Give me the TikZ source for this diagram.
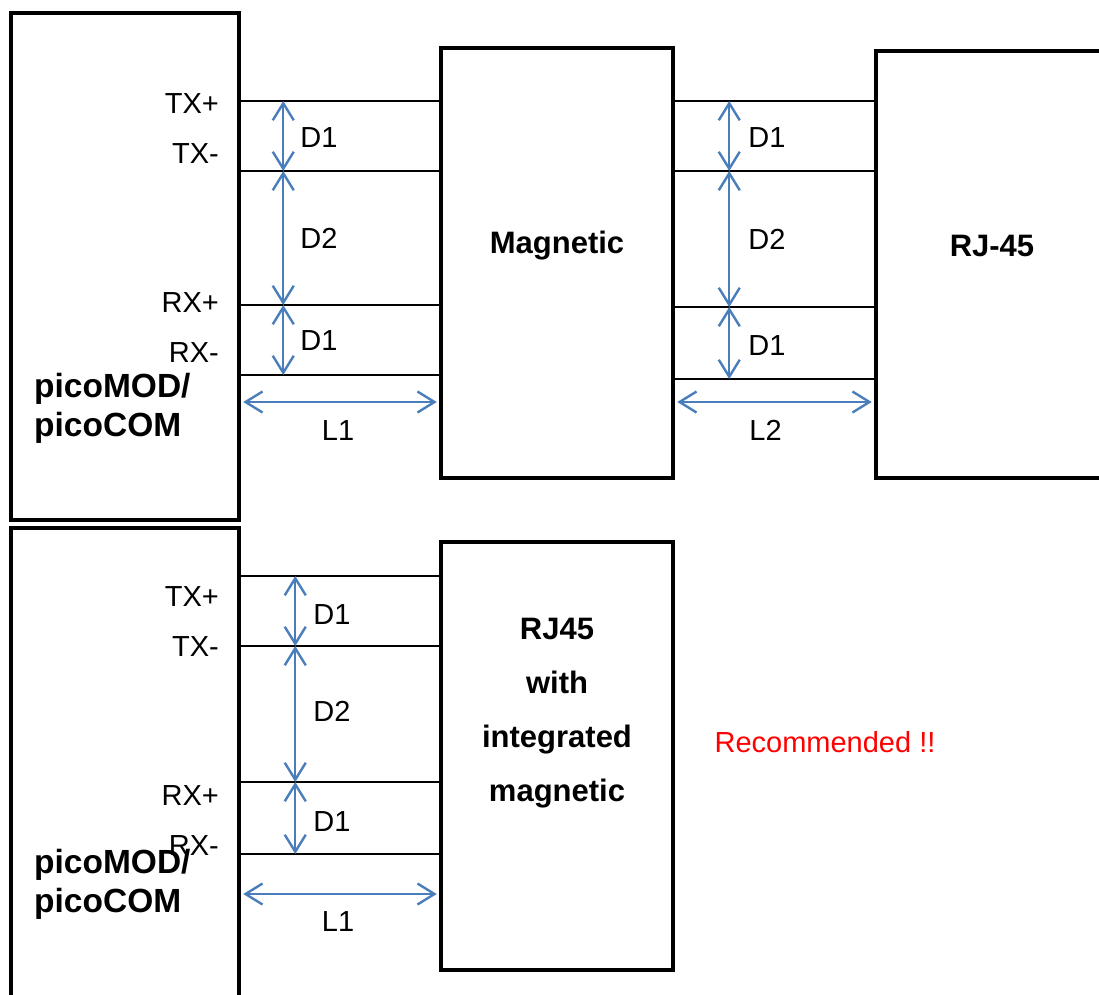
\documentclass[tikz,border=0pt]{standalone}
\usepackage{fontspec}
\setmainfont{Liberation Sans}
\usepackage{xcolor}
\usetikzlibrary{arrows.meta}
\definecolor{dimblue}{HTML}{4A7EBB}
\definecolor{alertred}{HTML}{FF0000}

\begin{document}
\begin{tikzpicture}[x=1pt,y=-1pt,
  box/.style={draw,line width=4.5pt,inner sep=0pt},
  wire/.style={line width=2.5pt},
  dim/.style={draw=dimblue,line width=2.4pt,{Straight Barb[length=17pt,width=21pt]}-{Straight Barb[length=17pt,width=21pt]}},
  pin/.style={anchor=east,inner sep=0pt,font=\fontsize{29}{34}\selectfont},
  lbl/.style={inner sep=0pt,font=\fontsize{29}{34}\selectfont},
  title/.style={inner sep=0pt,align=center,font=\fontsize{31}{54}\selectfont\bfseries},
  modtitle/.style={inner sep=0pt,anchor=west,align=left,font=\fontsize{33.5}{39}\selectfont\bfseries}]
\useasboundingbox (0,0) rectangle (1099,994);
\clip (0,0) rectangle (1099,994);

% upper layout: module - magnetic - RJ-45
\node[box,minimum width=228pt,minimum height=507pt] (pm1) at (125,266.5) {};
\node[box,minimum width=232pt,minimum height=430pt] (mag) at (557,263) {};
\node[box,minimum width=244pt,minimum height=427pt] (rj) at (998,264.5) {};
\node[title] (magtxt) at (557,246) {Magnetic};
\node[title] (rjtxt) at (992,246) {RJ-45};
\node[modtitle] (pm1txt) at (34,408) {picoMOD/\\picoCOM};

\foreach \y/\n in {101/a,171/b,305/c,375/d}
  \draw[wire] (pm1.east |- 0,\y) coordinate (l\n) -- (mag.west |- 0,\y);
\foreach \y/\n in {101/a,171/b,307/c,379/d}
  \draw[wire] (mag.east |- 0,\y) coordinate (r\n) -- (rj.west |- 0,\y);

\node[pin] (txp1) at (219,104) {TX+};
\node[pin] (txm1) at (219,154) {TX-};
\node[pin] (rxp1) at (219,303) {RX+};
\node[pin] (rxm1) at (219,353) {RX-};

\draw[dim] ([xshift=42pt]la) -- node[lbl,right=16pt,yshift=-2pt]{D1} ([xshift=42pt]lb);
\draw[dim] ([xshift=42pt]lb) -- node[lbl,right=16pt]{D2} ([xshift=42pt]lc);
\draw[dim] ([xshift=42pt]lc) -- node[lbl,right=16pt,yshift=-1pt]{D1} ([xshift=42pt]ld);
\draw[dim,shorten <=2pt,shorten >=2pt] (pm1.east |- 0,402) -- node[lbl,below=17pt,xshift=-2pt]{L1} (mag.west |- 0,402);

\draw[dim] ([xshift=54pt]ra) -- node[lbl,right=18pt,yshift=-2pt]{D1} ([xshift=54pt]rb);
\draw[dim] ([xshift=54pt]rb) -- node[lbl,right=18pt]{D2} ([xshift=54pt]rc);
\draw[dim] ([xshift=54pt]rc) -- node[lbl,right=18pt,yshift=-3pt]{D1} ([xshift=54pt]rd);
\draw[dim,shorten <=2pt,shorten >=2pt] (mag.east |- 0,402) -- node[lbl,below=17pt,xshift=-9pt]{L2} (rj.west |- 0,402);

% lower layout: module - RJ45 with magnetic
\node[box,minimum width=228pt,minimum height=492pt] (pm2) at (125,774) {};
\node[box,minimum width=232pt,minimum height=428pt] (rjm) at (557,756) {};
\node[title] (rjmtxt) at (557,713) {RJ45\\with\\integrated\\magnetic};
\node[modtitle] (pm2txt) at (34,884) {picoMOD/\\picoCOM};
\node[lbl,text=alertred] (rec) at (825,742) {Recommended !!};

\foreach \y/\n in {576/a,646/b,782/c,854/d}
  \draw[wire] (pm2.east |- 0,\y) coordinate (b\n) -- (rjm.west |- 0,\y);

\node[pin] (txp2) at (219,597) {TX+};
\node[pin] (txm2) at (219,647) {TX-};
\node[pin] (rxp2) at (219,796) {RX+};
\node[pin] (rxm2) at (219,846) {RX-};

\draw[dim] ([xshift=54pt]ba) -- node[lbl,right=17pt,yshift=-4pt]{D1} ([xshift=54pt]bb);
\draw[dim] ([xshift=54pt]bb) -- node[lbl,right=17pt,yshift=3pt]{D2} ([xshift=54pt]bc);
\draw[dim] ([xshift=54pt]bc) -- node[lbl,right=17pt,yshift=-4pt]{D1} ([xshift=54pt]bd);
\draw[dim,shorten <=2pt,shorten >=2pt] (pm2.east |- 0,894) -- node[lbl,below=16pt,xshift=-2pt]{L1} (rjm.west |- 0,894);
\end{tikzpicture}
\end{document}
